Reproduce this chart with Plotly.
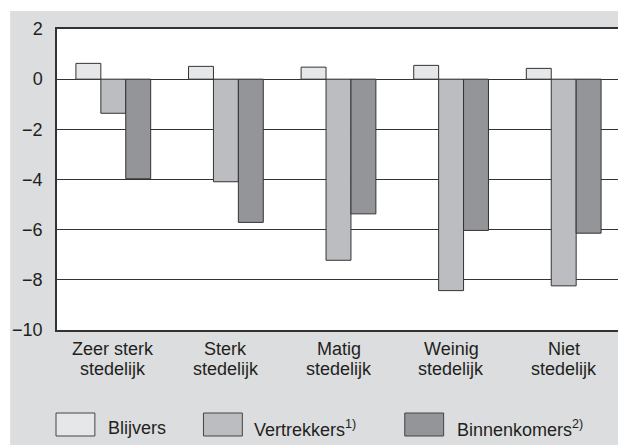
import plotly.graph_objects as go

categories = ["Zeer sterk stedelijk", "Sterk stedelijk", "Matig stedelijk",
              "Weinig stedelijk", "Niet stedelijk"]
label_line1 = ["Zeer sterk", "Sterk", "Matig", "Weinig", "Niet"]
label_line2 = ["stedelijk", "stedelijk", "stedelijk", "stedelijk", "stedelijk"]
blijvers = [0.63, 0.51, 0.48, 0.55, 0.43]
vertrekkers = [-1.36, -4.09, -7.22, -8.43, -8.24]
binnenkomers = [-3.97, -5.71, -5.37, -6.03, -6.14]
series_names = ["Blijvers", "Vertrekkers<sup>1)</sup>", "Binnenkomers<sup>2)</sup>"]
colors = ["#e6e7e8", "#bcbdc0", "#939598"]
y_ticks = [2, 0, -2, -4, -6, -8, -10]
y_labels = ["2", "0", "\u22122", "\u22124", "\u22126", "\u22128", "\u221210"]

TXT = "#231f20"
FONT = "Liberation Sans, Arial"
FS = 18

# page body has an 8px default margin; size the figure to fit the window
OFF = 8
W, H = 626 - OFF, 445 - OFF
L, R, T = 57 - OFF, 4, 29 - OFF
B = H - (330 - OFF)
pw, ph = W - L - R, H - T - B

def px(x):
    return (x - OFF - L) / pw

def py(y):
    return (H - B - (y - OFF)) / ph

fig = go.Figure()
for name, vals, col in zip(series_names, [blijvers, vertrekkers, binnenkomers], colors):
    fig.add_trace(go.Bar(x=categories, y=vals, name=name, marker_color=col,
                         marker_line_color="#333333", marker_line_width=1,
                         showlegend=False))

shapes = [
    dict(type="rect", xref="paper", yref="paper", x0=px(10), x1=px(640), y0=py(460), y1=py(11),
         fillcolor="#dcddde", line_width=0, layer="below"),
    dict(type="rect", xref="paper", yref="paper", x0=0, x1=1, y0=0, y1=1,
         fillcolor="white", line_width=0, layer="below"),
]
annotations = []
for cat, l1, l2 in zip(categories, label_line1, label_line2):
    annotations.append(dict(xref="x", yref="paper", x=cat, y=py(349), text=l1, showarrow=False,
                            xanchor="center", yanchor="middle",
                            font=dict(size=FS, color=TXT, family=FONT)))
    annotations.append(dict(xref="x", yref="paper", x=cat, y=py(369), text=l2, showarrow=False,
                            xanchor="center", yanchor="middle",
                            font=dict(size=FS, color=TXT, family=FONT)))

legend_boxes = [56, 204, 406]
legend_text_x = [106, 253, 456]
for bx, tx, name, col in zip(legend_boxes, legend_text_x, series_names, colors):
    shapes.append(dict(type="rect", xref="paper", yref="paper", x0=px(bx), x1=px(bx + 39),
                       y0=py(436), y1=py(413), fillcolor=col,
                       line=dict(color="#444444", width=1)))
    annotations.append(dict(xref="paper", yref="paper", x=px(tx), y=py(428), text=name,
                            showarrow=False, xanchor="left", yanchor="middle",
                            font=dict(size=FS, color=TXT, family=FONT)))

fig.update_layout(
    width=W, height=H, margin=dict(l=L, r=R, t=T, b=B, pad=0),
    paper_bgcolor="white", plot_bgcolor="white",
    barmode="group", bargap=0.336, bargroupgap=0,
    font=dict(family=FONT, size=FS, color=TXT),
    shapes=shapes, annotations=annotations,
    xaxis=dict(showgrid=False, showline=True, linecolor="#333333", linewidth=1.5, mirror=True,
               showticklabels=False, ticks="", fixedrange=True),
    yaxis=dict(range=[-10, 2], tickvals=y_ticks, ticktext=y_labels, showgrid=True,
               gridcolor="#333333", gridwidth=1, zeroline=True, zerolinecolor="#333333",
               zerolinewidth=1, showline=True, linecolor="#333333", linewidth=1.5, mirror=True,
               ticks="outside", ticklen=9, tickcolor="rgba(0,0,0,0)",
               tickfont=dict(size=FS, color=TXT, family=FONT)),
)

fig.write_html("out.html")
